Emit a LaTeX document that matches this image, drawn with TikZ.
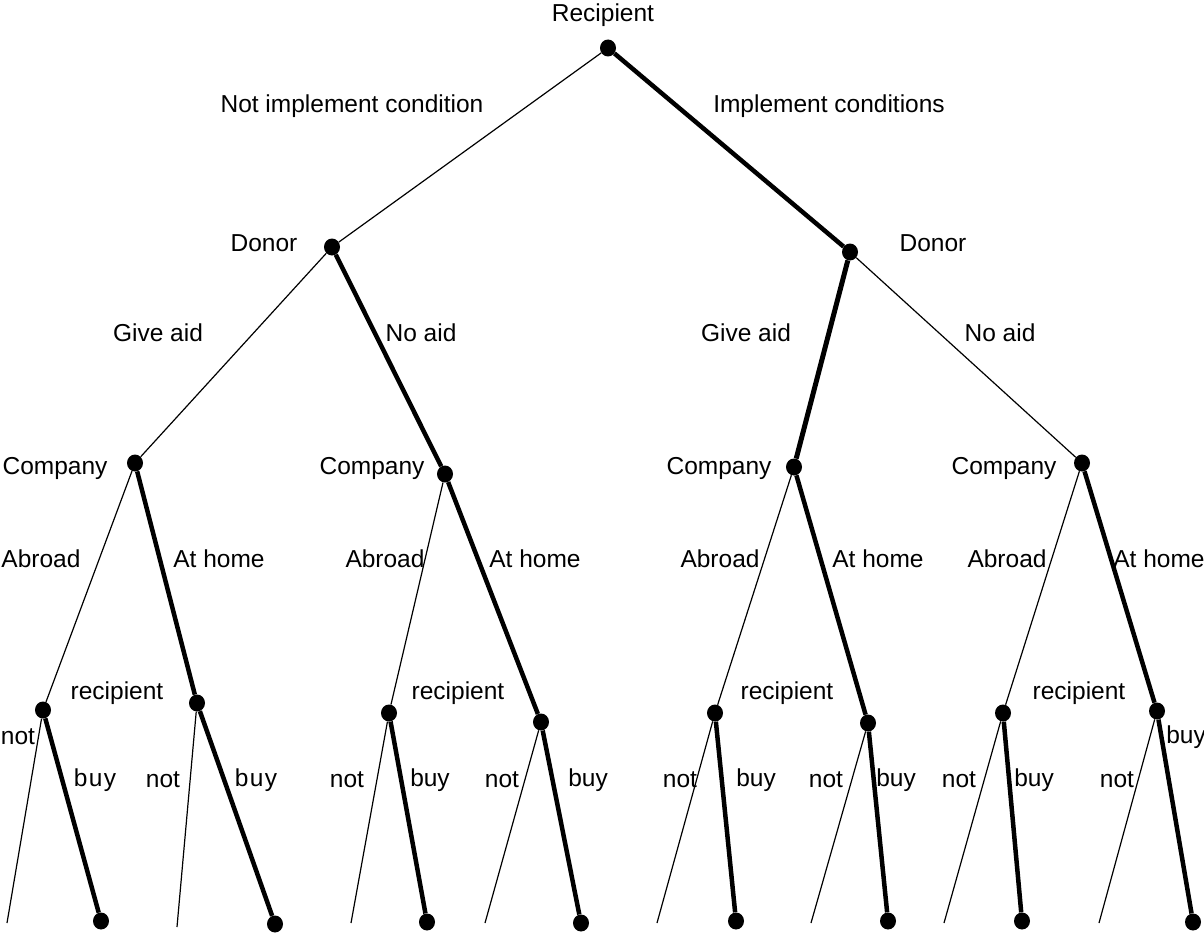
\documentclass[tikz,border=0pt]{standalone}
\usepackage{fontspec}
\setmainfont{Liberation Sans}
\usetikzlibrary{shapes.geometric}
\begin{document}
\begin{tikzpicture}[x=1pt,y=-1pt,
  dot/.style={ellipse,fill=black,inner sep=0pt,minimum width=16pt,minimum height=17pt},
  thin edge/.style={line width=1.2pt},
  thick edge/.style={line width=4.5pt},
  lbl/.style={font=\fontsize{24.5}{28}\selectfont,inner sep=0pt,anchor=center}]
\useasboundingbox (0,0) rectangle (1204,934);
% decision nodes
\node[dot] (r) at (608,48) {};
\node[dot] (dl) at (332,247) {};
\node[dot] (dr) at (850,252) {};
\node[dot] (ca) at (135,463) {};
\node[dot] (cb) at (445,474) {};
\node[dot] (cc) at (794,467) {};
\node[dot] (cd) at (1082,463) {};
\node[dot] (r1) at (43,710) {};
\node[dot] (r2) at (197,703) {};
\node[dot] (r3) at (389,713) {};
\node[dot] (r4) at (541,722) {};
\node[dot] (r5) at (715,713) {};
\node[dot] (r6) at (868,723) {};
\node[dot] (r7) at (1003,713) {};
\node[dot] (r8) at (1157,711) {};
% buy leaves
\node[dot] (b1) at (101,921) {};
\node[dot] (b2) at (275,924) {};
\node[dot] (b3) at (427,922) {};
\node[dot] (b4) at (581,923) {};
\node[dot] (b5) at (736,921) {};
\node[dot] (b6) at (888,921) {};
\node[dot] (b7) at (1022,921) {};
\node[dot] (b8) at (1193,922) {};
% not leaves
\coordinate (n1) at (7,923);
\coordinate (n2) at (177,927);
\coordinate (n3) at (351,923);
\coordinate (n4) at (485,923);
\coordinate (n5) at (657,923);
\coordinate (n6) at (811,923);
\coordinate (n7) at (944,923);
\coordinate (n8) at (1099,923);
% edges
\draw[thin edge] (r) -- (dl);
\draw[thick edge] (r) -- (dr);
\draw[thin edge] (dl) -- (ca);
\draw[thick edge] (dl) -- (cb);
\draw[thick edge,line width=5pt] (dr) -- (cc);
\draw[thin edge] (dr) -- (cd);
\draw[thin edge] (ca) -- (r1);
\draw[thick edge] (ca) -- (r2);
\draw[thin edge] (cb) -- (r3);
\draw[thick edge] (cb) -- (r4);
\draw[thin edge] (cc) -- (r5);
\draw[thick edge] (cc) -- (r6);
\draw[thin edge] (cd) -- (r7);
\draw[thick edge] (cd) -- (r8);
\foreach \i in {1,...,8}{
  \draw[thin edge] (r\i) -- (n\i);
  \draw[thick edge] (r\i) -- (b\i);
}
% labels
\node[lbl] (tR) at (603,15) {Recipient};
\node[lbl] (tNI) at (352,106) {Not implement condition};
\node[lbl] (tI) at (829,106) {Implement conditions};
\node[lbl] (tDL) at (264,243) {Donor};
\node[lbl] (tDR) at (933,243) {Donor};
\node[lbl] (tG1) at (158,333) {Give aid};
\node[lbl] (tN1) at (421,333) {No aid};
\node[lbl] (tG2) at (746,333) {Give aid};
\node[lbl] (tN2) at (1000,333) {No aid};
\node[lbl] (tC1) at (55,468) {Company};
\node[lbl] (tC2) at (372,468) {Company};
\node[lbl] (tC3) at (719,468) {Company};
\node[lbl] (tC4) at (1004,468) {Company};
\node[lbl] (tA1) at (41,559) {Abroad};
\node[lbl] (tH1) at (219,559) {At home};
\node[lbl] (tA2) at (385,559) {Abroad};
\node[lbl] (tH2) at (535,559) {At home};
\node[lbl] (tA3) at (720,559) {Abroad};
\node[lbl] (tH3) at (878,559) {At home};
\node[lbl] (tA4) at (1007,559) {Abroad};
\node[lbl] (tH4) at (1159,559) {At home};
\node[lbl] (tr1) at (117,693) {recipient};
\node[lbl] (tr2) at (458,693) {recipient};
\node[lbl] (tr3) at (787,693) {recipient};
\node[lbl] (tr4) at (1079,693) {recipient};
\node[lbl] (o1) at (18,737) {not};
\node[lbl] (y1) at (95,780) {b\kern1.5pt u\kern1.5pt y};
\node[lbl] (o2) at (163,780) {not};
\node[lbl] (y2) at (256,780) {b\kern1.5pt u\kern1.5pt y};
\node[lbl] (o3) at (347,780) {not};
\node[lbl] (y3) at (430,780) {buy};
\node[lbl] (o4) at (502,780) {not};
\node[lbl] (y4) at (588,780) {buy};
\node[lbl] (o5) at (680,780) {not};
\node[lbl] (y5) at (756,780) {buy};
\node[lbl] (o6) at (826,780) {not};
\node[lbl] (y6) at (896,780) {buy};
\node[lbl] (o7) at (959,780) {not};
\node[lbl] (y7) at (1034,780) {buy};
\node[lbl] (o8) at (1117,780) {not};
\node[lbl] (y8) at (1186,737) {buy};
\end{tikzpicture}
\end{document}
